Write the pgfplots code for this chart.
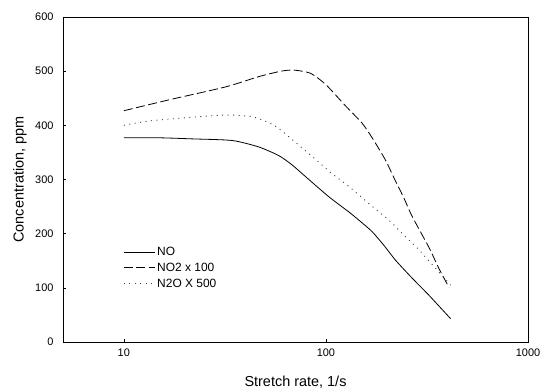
\documentclass[border=0pt]{standalone}
\usepackage{pgfplots}
\pgfplotsset{compat=1.18}
\usepackage{fontspec}
\setmainfont{Liberation Sans}
\begin{document}
\begin{tikzpicture}[x=1bp,y=1bp]
\useasboundingbox (0,0) rectangle (543,390);
\begin{axis}[
  at={(63bp,48bp)}, anchor=south west,
  scale only axis, width=465bp, height=325bp,
  xmode=log, xmin=5, xmax=1000, ymin=0, ymax=600,
  xtick={10,100,1000}, xticklabels={10,100,1000},
  ytick={0,100,...,600},
  xminorticks=false,
  tick pos=left, tick align=inside,
  major tick length=3.5bp,
  axis line style={line width=0.6bp},
  tick style={line width=0.5bp, black},
  /pgf/number format/assume math mode=true,
  ticklabel style={font=\fontsize{11}{12}\selectfont},
  xticklabel style={yshift=-3bp},
  yticklabel style={xshift=-6bp},
  xlabel={Stretch rate, 1/s},
  ylabel={Concentration, ppm},
  label style={font=\fontsize{14.5}{16}\selectfont},
  xlabel style={at={(axis description cs:0.5,0)}, anchor=center, yshift=-40bp},
  ylabel style={at={(axis description cs:0,0.5)}, anchor=center, yshift=-2bp},
  every axis y label/.append style={at={(axis description cs:-0.097,0.5)}},
  legend style={draw=none, fill=none, at={(0.125,0.305)}, anchor=north west,
    font=\fontsize{12}{13}\selectfont, row sep=2bp, inner sep=2bp},
  legend cell align=left,
  legend image code/.code={\draw[#1] (0bp,0bp) -- (31bp,0bp);},
]
\addplot[black, line width=0.8bp, smooth, tension=0.4] coordinates {
(10,377) (15,377) (21.8,375) (34.4,372) (46.6,360) (58.5,344) (68,327) (80,304) (103.5,268)
(130,240) (151,220) (170,203) (195,177) (221,151) (267,118) (324,86) (414,43)
};
\addlegendentry{NO}
\addplot[black, line width=0.8bp, dash pattern=on 9bp off 3.5bp, smooth, tension=0.4] coordinates {
(10,427) (16.7,447) (31.9,471) (46.6,490) (60,500) (69.5,502) (84,496) (100,475)
(125,436) (151,404) (170,376) (197,336) (221,297) (243,266) (267,232) (324,174) (362,136) (406,101)
};
\addlegendentry{NO2 x 100}
\addplot[black!75, line width=0.9bp, dash pattern=on 1bp off 4.5bp, smooth, tension=0.4] coordinates {
(10,400) (13.3,408) (21.8,415) (31.9,419) (43.1,416) (54.2,402) (60.8,389) (68,374) (89,337)
(107,311) (130,287) (170,250) (205,225) (239,200) (289,170) (343,139) (414,105)
};
\addlegendentry{N2O X 500}
\end{axis}
\end{tikzpicture}
\end{document}
